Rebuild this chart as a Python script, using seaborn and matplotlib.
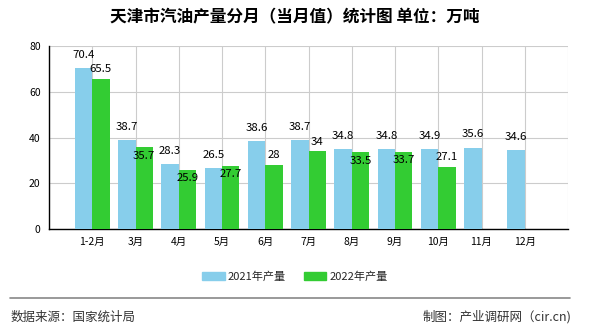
import matplotlib
matplotlib.use("Agg")
import matplotlib.pyplot as plt
import seaborn as sns
import pandas as pd
import numpy as np

months = ["1-2月", "3月", "4月", "5月", "6月", "7月", "8月", "9月", "10月", "11月", "12月"]
output_2021 = [70.4, 38.7, 28.3, 26.5, 38.6, 38.7, 34.8, 34.8, 34.9, 35.6, 34.6]
output_2022 = [65.5, 35.7, 25.9, 27.7, 28, 34, 33.5, 33.7, 27.1, None, None]
series_names = ["2021年产量", "2022年产量"]
y_ticks = [0, 20, 40, 60, 80]

sns.set_theme(style="white")
plt.rcParams["font.family"] = ["Noto Sans CJK SC", "DejaVu Sans"]

df = pd.DataFrame({
    "月份": months * 2,
    "产量": output_2021 + [np.nan if v is None else v for v in output_2022],
    "系列": [series_names[0]] * len(months) + [series_names[1]] * len(months),
})

palette = {series_names[0]: "#87CEEB", series_names[1]: "#33CC33"}

fig = plt.figure(figsize=(5.9, 3.3), dpi=100)
ax = fig.add_axes([49 / 590, 1 - 229 / 330, (568 - 49) / 590, (229 - 46) / 330])

sns.barplot(data=df, x="月份", y="产量", hue="系列", palette=palette,
            width=0.8, saturation=1, ax=ax, legend=False, zorder=3,
            linewidth=0, edgecolor="none")

ax.set_xlim(-1, len(months))
ax.set_ylim(0, 80)
ax.set_xticks(range(-1, len(months) + 1))
ax.set_xticklabels([""] + months + [""], fontsize=7.5)
ax.set_yticks(y_ticks)
ax.set_yticklabels([str(t) for t in y_ticks], fontsize=7.5)
ax.set_xlabel("")
ax.set_ylabel("")
ax.grid(True, color="#cccccc", linewidth=0.8, zorder=0)
ax.set_axisbelow(True)
for side in ["top", "right"]:
    ax.spines[side].set_visible(False)
for side in ["left", "bottom"]:
    ax.spines[side].set_color("black")
    ax.spines[side].set_linewidth(1.0)
ax.tick_params(axis="both", which="both", direction="out", length=4,
               width=1, color="black", labelcolor="black", pad=2)

# value labels
lab_font = dict(fontsize=8.2, color="black", ha="center", va="center")
for i, (a, b) in enumerate(zip(output_2021, output_2022)):
    ax.annotate(f"{a:g}", (i - 0.2, a), xytext=(0, 9.5),
                textcoords="offset points", **lab_font)
    if b is not None:
        dy = 7 if a - b > 4 else -6
        ax.annotate(f"{b:g}", (i + 0.2, b), xytext=(0, dy),
                    textcoords="offset points", **lab_font)

fig.text(0.5, 1 - 17 / 330, "天津市汽油产量分月（当月值）统计图 单位：万吨",
         ha="center", va="center", fontsize=12, fontweight="bold", color="black")

handles = [plt.Rectangle((0, 0), 1, 1, color=palette[s]) for s in series_names]
fig.legend(handles, series_names, loc="center", bbox_to_anchor=(0.5, 1 - 277 / 330),
           ncol=2, frameon=False, fontsize=8, handlelength=2.0, handleheight=0.7,
           columnspacing=1.6, handletextpad=0.3)

fig.add_artist(plt.Line2D([10 / 590, 570 / 590], [1 - 298 / 330] * 2,
                          color="#888888", linewidth=1.2, transform=fig.transFigure))
fig.text(11 / 590, 1 - 317 / 330, "数据来源：国家统计局", ha="left", va="center",
         fontsize=9, color="#333333")
fig.text(571 / 590, 1 - 317 / 330, "制图：产业调研网（cir.cn)", ha="right", va="center",
         fontsize=9, color="#333333")

fig.savefig("out.png", dpi=100)
